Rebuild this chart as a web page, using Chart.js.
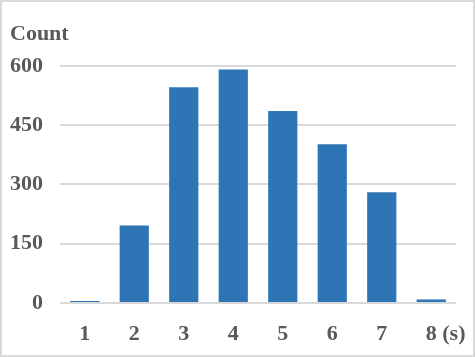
<!DOCTYPE html>
<html>
<head>
<meta charset="utf-8">
<script src="https://cdn.jsdelivr.net/npm/chart.js@4"></script>
<style>
  body { margin: 0; background: #fff; }
  #wrap { position: relative; width: 475px; height: 357px; }
  #frame { position: absolute; left: 0; top: 0; width: 475px; height: 357px;
           box-sizing: border-box; border: 2px solid #d9d9d9; pointer-events: none; }
</style>
</head>
<body>
<div id="wrap">
  <canvas id="myChart" width="475" height="357"></canvas>
  <div id="frame"></div>
</div>
<script>
// chart data
const categories = ["1", "2", "3", "4", "5", "6", "7", "8"];
const counts = [5, 196, 546, 591, 486, 402, 280, 9];
const yTicks = [0, 150, 300, 450, 600];
const yTitle = "Count";
const xUnit = "(s)";

const textColor = "#595959";
const fontFamily = "'Liberation Serif', 'Times New Roman', serif";
const labelFont = { family: fontFamily, size: 22, weight: "bold" };

// draws the unit "(s)" just after the last x label
const unitLabel = {
  id: "unitLabel",
  afterDraw(chart) {
    const x = chart.scales.x;
    const c = chart.ctx;
    c.save();
    c.font = "bold 22px " + fontFamily;
    c.fillStyle = textColor;
    c.textAlign = "left";
    c.textBaseline = "middle";
    const last = categories.length - 1;
    const px = x.getPixelForTick(last) + c.measureText(categories[last]).width / 2 + c.measureText(" ").width;
    const py = x.top + x.options.ticks.padding + 22 * 1.2 / 2;
    c.fillText(xUnit, px, py);
    c.restore();
  },
};

const ctx = document.getElementById("myChart").getContext("2d");

new Chart(ctx, {
  type: "bar",
  data: {
    labels: categories,
    datasets: [
      {
        label: yTitle,
        data: counts,
        backgroundColor: "#2E75B6",
        categoryPercentage: 1,
        barPercentage: 0.59,
      },
    ],
  },
  options: {
    responsive: false,
    animation: false,
    layout: { padding: { left: 10, right: 19, top: 0, bottom: 0 } },
    plugins: {
      legend: { display: false },
      tooltip: { enabled: false },
      title: {
        display: true,
        text: yTitle,
        align: "start",
        color: textColor,
        font: labelFont,
        padding: { top: 21, bottom: 18.5 },
      },
    },
    scales: {
      x: {
        grid: { display: false, drawTicks: false },
        border: { display: false },
        ticks: { color: textColor, font: labelFont, padding: 18 },
        afterFit(scale) {
          scale.height = 54;
        },
      },
      y: {
        min: 0,
        max: 600,
        afterBuildTicks(scale) {
          scale.ticks = yTicks.map((v) => ({ value: v }));
        },
        grid: { color: "#d9d9d9", lineWidth: 2, drawTicks: false },
        border: { display: false },
        ticks: { color: textColor, font: labelFont, padding: 17 },
        afterFit(scale) {
          scale.width = 50;
        },
      },
    },
  },
  plugins: [unitLabel],
});
</script>
</body>
</html>
